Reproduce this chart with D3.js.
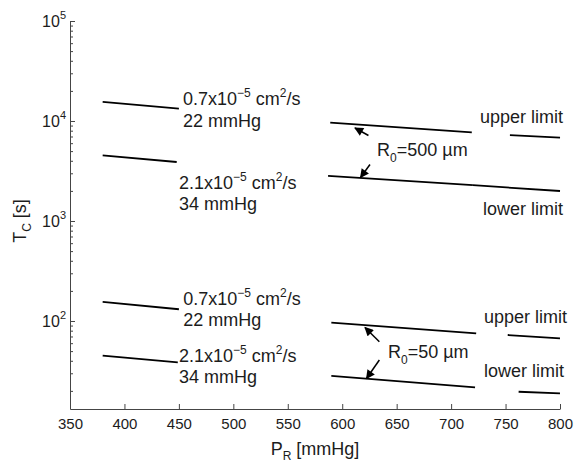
<!DOCTYPE html>
<html>
<head>
<meta charset="utf-8">
<script src="https://cdn.jsdelivr.net/npm/d3@7"></script>
<style>
  html, body { margin: 0; padding: 0; background: #fff; }
  svg { display: block; font-family: "Liberation Sans", Arial, Helvetica, sans-serif; }
</style>
</head>
<body>
<svg id="chart" width="576" height="463"></svg>
<script>
// ---- axis ticks ----
const pressureTicks = [350, 400, 450, 500, 550, 600, 650, 700, 750, 800];
const decadeExponents = [2, 3, 4, 5];

// ---- T_C curves: [P_R (mmHg), T_C (s)] ----
// R0 = 500 µm, left branch
const tc500_d07_p22 = [[380, 15500], [450, 13300]];
const tc500_d21_p34 = [[380, 4540], [448, 3890]];
// R0 = 50 µm, left branch
const tc50_d07_p22 = [[380, 155], [450, 131]];
const tc50_d21_p34 = [[380, 45], [449, 38.6]];
// R0 = 500 µm, right branch
const tc500_upper = [[589, 9620], [719, 7710]];
const tc500_upperLimit = [[754, 7240], [800, 6810]];
const tc500_lower = [[587, 2820], [720, 2280]];
const tc500_lowerLimit = [[720, 2280], [800, 1995]];
// R0 = 50 µm, right branch
const tc50_upper = [[590, 96.2], [723, 75.3]];
const tc50_upperLimit = [[752, 72.4], [800, 67.1]];
const tc50_lower = [[590, 28.2], [722, 21.7]];
const tc50_lowerLimit = [[762, 19.6], [800, 18.9]];

const curves = [
  tc500_d07_p22, tc500_d21_p34, tc50_d07_p22, tc50_d21_p34,
  tc500_upper, tc500_upperLimit, tc500_lower, tc500_lowerLimit,
  tc50_upper, tc50_upperLimit, tc50_lower, tc50_lowerLimit
];

// ---- annotation text: anchor [P_R, T_C] and rich-text pieces ----
// piece kinds: "n" normal, "sup" superscript, "sub" subscript
const labelTexts = [
  { at: [453.8, 14290], parts: [["n", "0.7x10"], ["sup", "\u22125"], ["n", " cm"], ["sup", "2"], ["n", "/s"]] },
  { at: [453.8, 8810],  parts: [["n", "22 mmHg"]] },
  { at: [450.1, 2100],  parts: [["n", "2.1x10"], ["sup", "\u22125"], ["n", " cm"], ["sup", "2"], ["n", "/s"]] },
  { at: [450.1, 1300],  parts: [["n", "34 mmHg"]] },
  { at: [454, 142.9],   parts: [["n", "0.7x10"], ["sup", "\u22125"], ["n", " cm"], ["sup", "2"], ["n", "/s"]] },
  { at: [454, 88.1],    parts: [["n", "22 mmHg"]] },
  { at: [450.1, 38.5],  parts: [["n", "2.1x10"], ["sup", "\u22125"], ["n", " cm"], ["sup", "2"], ["n", "/s"]] },
  { at: [450.1, 24.0],  parts: [["n", "34 mmHg"]] },
  { at: [726.5, 9550],  parts: [["n", "upper limit"]] },
  { at: [729.3, 1148],  parts: [["n", "lower limit"]] },
  { at: [632, 4416],    parts: [["n", "R"], ["sub", "0"], ["n", "=500 \u00b5m"]] },
  { at: [730.2, 95.5],  parts: [["n", "upper limit"]] },
  { at: [730.2, 27.5],  parts: [["n", "lower limit"]] },
  { at: [642, 42.2],    parts: [["n", "R"], ["sub", "0"], ["n", "=50 \u00b5m"]] }
];

// ---- arrows: [tail, head] in [P_R, T_C] ----
const arrows = [
  [[624.1, 7161], [611.7, 8511]],
  [[625.5, 3673], [616.8, 2723]],
  [[634.1, 62.1], [620.9, 86.1]],
  [[634.1, 40.7], [622.3, 26.6]]
];

// ---- layout ----
const svg = d3.select("#chart");
const x = d3.scaleLinear().domain([350, 800]).range([70, 560]);
const y = d3.scaleLog().domain([13.18, 1e5]).range([409, 21]);

const axisColor = "#454545";
const textColor = "#1c1c1c";

// minor log ticks (2..9 x 10^k) inside the domain
const minorTicks = [];
for (let k = 1; k <= 4; k++) {
  for (let m = 2; m <= 9; m++) {
    const v = m * Math.pow(10, k);
    if (v >= y.domain()[0] && v <= y.domain()[1]) minorTicks.push(v);
  }
}
const majorTicks = decadeExponents.map(e => Math.pow(10, e));

// x axis
const gx = svg.append("g")
  .attr("transform", "translate(0,409)")
  .call(d3.axisBottom(x)
    .tickValues(pressureTicks)
    .tickSize(-5)
    .tickSizeOuter(0)
    .tickPadding(9)
    .tickFormat(d3.format("d")));
gx.select(".domain").attr("stroke", axisColor);
gx.selectAll(".tick line").attr("stroke", axisColor);
gx.selectAll(".tick text")
  .attr("fill", textColor)
  .style("font-size", "15px")
  .style("font-family", "'Liberation Sans', Arial, sans-serif");

// y axis: minor ticks
const gyMinor = svg.append("g")
  .attr("transform", "translate(70,0)")
  .call(d3.axisLeft(y).tickValues(minorTicks).tickSize(-3).tickSizeOuter(0).tickFormat(""));
gyMinor.select(".domain").remove();
gyMinor.selectAll(".tick line").attr("stroke", axisColor);

// y axis: decades
const gy = svg.append("g")
  .attr("transform", "translate(70,0)")
  .call(d3.axisLeft(y).tickValues(majorTicks).tickSize(-5).tickSizeOuter(0).tickFormat(""));
gy.select(".domain").attr("stroke", axisColor);
gy.selectAll(".tick line").attr("stroke", axisColor);

// decade labels 10^k
const yLab = svg.append("g").attr("fill", textColor);
decadeExponents.forEach(e => {
  const t = yLab.append("text")
    .attr("x", 66)
    .attr("y", y(Math.pow(10, e)) + 6)
    .attr("text-anchor", "end")
    .style("font-size", "16px");
  t.append("tspan").text("10");
  t.append("tspan").attr("dy", -8).style("font-size", "11px").text(String(e));
});

// axis titles
const xt = svg.append("text")
  .attr("x", 315).attr("y", 455)
  .attr("text-anchor", "middle")
  .attr("fill", textColor)
  .style("font-size", "18px");
xt.append("tspan").text("P");
xt.append("tspan").attr("dy", 5).style("font-size", "12px").text("R");
xt.append("tspan").attr("dy", -5).text(" [mmHg]");

const yt = svg.append("text")
  .attr("transform", "translate(26,221) rotate(-90)")
  .attr("text-anchor", "middle")
  .attr("fill", textColor)
  .style("font-size", "18px");
yt.append("tspan").text("T");
yt.append("tspan").attr("dy", 5).style("font-size", "12px").text("C");
yt.append("tspan").attr("dy", -5).text(" [s]");

// curves
const line = d3.line().x(d => x(d[0])).y(d => y(d[1]));
svg.append("g")
  .selectAll("path")
  .data(curves)
  .join("path")
  .attr("d", line)
  .attr("fill", "none")
  .attr("stroke", "#000")
  .attr("stroke-width", 1.8);

// arrows
svg.append("defs").append("marker")
  .attr("id", "head")
  .attr("viewBox", "0 0 10 10")
  .attr("refX", 9).attr("refY", 5)
  .attr("markerUnits", "userSpaceOnUse")
  .attr("markerWidth", 10).attr("markerHeight", 9)
  .attr("orient", "auto")
  .append("path")
  .attr("d", "M0,0 L10,5 L0,10 z")
  .attr("fill", "#000");

svg.append("g")
  .selectAll("line")
  .data(arrows)
  .join("line")
  .attr("x1", d => x(d[0][0])).attr("y1", d => y(d[0][1]))
  .attr("x2", d => x(d[1][0])).attr("y2", d => y(d[1][1]))
  .attr("stroke", "#000")
  .attr("stroke-width", 1.5)
  .attr("marker-end", "url(#head)");

// annotation text
const annot = svg.append("g").attr("fill", textColor).style("font-size", "18px");
labelTexts.forEach(lbl => {
  const t = annot.append("text").attr("x", x(lbl.at[0])).attr("y", y(lbl.at[1]));
  let shift = 0;
  lbl.parts.forEach(([kind, str]) => {
    const sp = t.append("tspan");
    if (kind === "sup") {
      sp.attr("dy", -8 - shift).style("font-size", "12px");
      shift = -8;
    } else if (kind === "sub") {
      sp.attr("dy", 6 - shift).style("font-size", "12px");
      shift = 6;
    } else {
      sp.attr("dy", -shift);
      shift = 0;
    }
    sp.text(str);
  });
});
</script>
</body>
</html>
